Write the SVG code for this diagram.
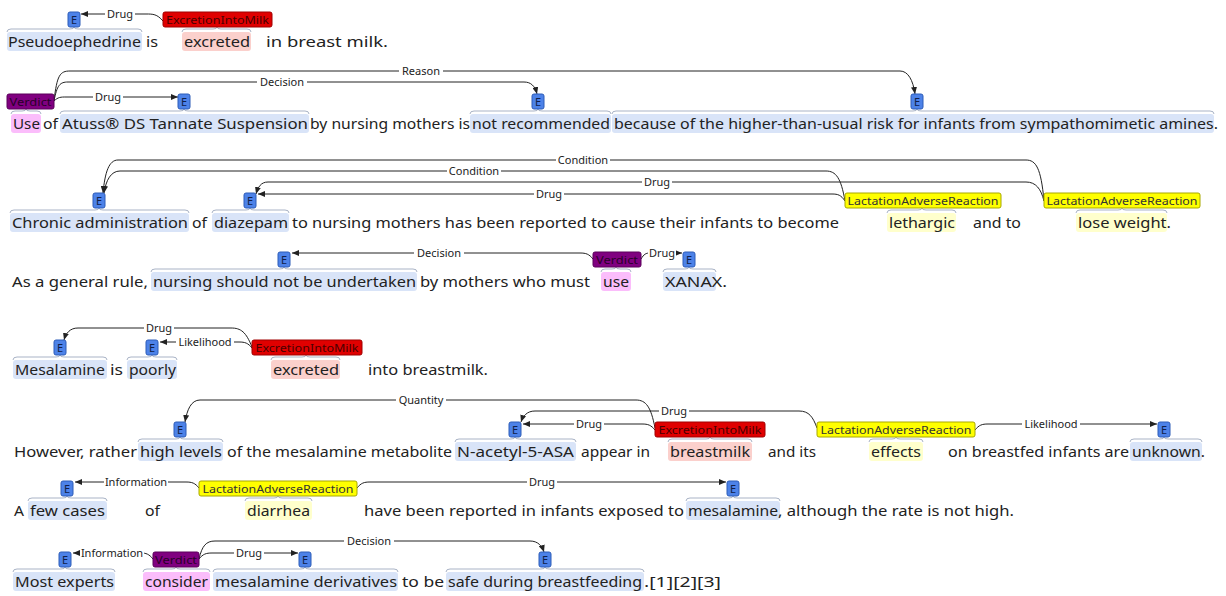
<svg xmlns="http://www.w3.org/2000/svg" width="1226" height="596" viewBox="0 0 1226 596">
<defs>
<style>
.t{font-family:"Noto Sans","DejaVu Sans",sans-serif;font-size:15px;fill:#222}
.lb{font-family:"Noto Sans","DejaVu Sans",sans-serif;font-size:11px;fill:#222;text-anchor:middle}
.bt{font-family:"Noto Sans","DejaVu Sans",sans-serif;font-size:11px;text-anchor:middle}
.arc{fill:none;stroke:#222;stroke-width:1}
.br{fill:none;stroke:#a9b3c6;stroke-width:1}
.lbg{fill:#fff}
.he{fill:#d9e4f8}
.hv{fill:#fbbdfb}
.hx{fill:#fbd0cc}
.hl{fill:#ffffcc}
.be{fill:#4d82e8;stroke:#2d5cb8}
.bv{fill:#800080;stroke:#5a005a}
.bx{fill:#e00000;stroke:#a00000}
.bl{fill:#ffff00;stroke:#a8a800}
.te{fill:#10204a}
.tv{fill:#2a002a}
.tx{fill:#4a0000}
.tl{fill:#333}
</style>
<marker id="ah" markerWidth="7" markerHeight="6" refX="7" refY="3" orient="auto" markerUnits="userSpaceOnUse"><path d="M0,0 L7,3 L0,6 z" fill="#222"/></marker>
</defs>
<rect width="1226" height="596" fill="#fff"/>

<g id="highlights">
<rect class="he" x="7" y="32" width="135" height="19" rx="3"/>
<rect class="hx" x="182" y="32" width="69" height="19" rx="3"/>

<rect class="hv" x="11" y="114" width="30" height="19" rx="3"/>
<rect class="he" x="60" y="114" width="249" height="19" rx="3"/>
<rect class="he" x="470" y="114" width="141" height="19" rx="3"/>
<rect class="he" x="612" y="114" width="602" height="19" rx="3"/>

<rect class="he" x="10" y="213" width="179" height="19" rx="3"/>
<rect class="he" x="212" y="213" width="77" height="19" rx="3"/>
<rect class="hl" x="887" y="213" width="69" height="19" rx="3"/>
<rect class="hl" x="1076" y="213" width="91" height="19" rx="3"/>

<rect class="he" x="151" y="272" width="266" height="19" rx="3"/>
<rect class="hv" x="601" y="272" width="30" height="19" rx="3"/>
<rect class="he" x="663" y="272" width="53" height="19" rx="3"/>

<rect class="he" x="13" y="360" width="94" height="19" rx="3"/>
<rect class="he" x="127" y="360" width="50" height="19" rx="3"/>
<rect class="hx" x="271" y="360" width="69" height="19" rx="3"/>

<rect class="he" x="138" y="442" width="85" height="19" rx="3"/>
<rect class="he" x="455" y="442" width="121" height="19" rx="3"/>
<rect class="hx" x="668" y="442" width="84" height="19" rx="3"/>
<rect class="hl" x="869" y="442" width="54" height="19" rx="3"/>
<rect class="he" x="1130" y="442" width="72" height="19" rx="3"/>

<rect class="he" x="28" y="501" width="79" height="19" rx="3"/>
<rect class="hl" x="245" y="501" width="67" height="19" rx="3"/>
<rect class="he" x="686" y="501" width="94" height="19" rx="3"/>

<rect class="he" x="13" y="572" width="102" height="19" rx="3"/>
<rect class="hv" x="143" y="572" width="67" height="19" rx="3"/>
<rect class="he" x="213" y="572" width="185" height="19" rx="3"/>
<rect class="he" x="446" y="572" width="198" height="19" rx="3"/>
</g>

<g id="text">
<text class="t" x="8" y="47" textLength="133" lengthAdjust="spacingAndGlyphs">Pseudoephedrine</text>
<text class="t" x="146" y="47" textLength="12" lengthAdjust="spacingAndGlyphs">is</text>
<text class="t" x="184" y="47" textLength="66" lengthAdjust="spacingAndGlyphs">excreted</text>
<text class="t" x="266" y="47" textLength="122" lengthAdjust="spacingAndGlyphs">in breast milk.</text>

<text class="t" x="13" y="129" textLength="27" lengthAdjust="spacingAndGlyphs">Use</text>
<text class="t" x="43" y="129" textLength="15" lengthAdjust="spacingAndGlyphs">of</text>
<text class="t" x="62" y="129" textLength="246" lengthAdjust="spacingAndGlyphs">Atuss® DS Tannate Suspension</text>
<text class="t" x="310" y="129" textLength="160" lengthAdjust="spacingAndGlyphs">by nursing mothers is</text>
<text class="t" x="472" y="129" textLength="138" lengthAdjust="spacingAndGlyphs">not recommended</text>
<text class="t" x="614" y="129" textLength="604" lengthAdjust="spacingAndGlyphs">because of the higher-than-usual risk for infants from sympathomimetic amines.</text>

<text class="t" x="12" y="228" textLength="176" lengthAdjust="spacingAndGlyphs">Chronic administration</text>
<text class="t" x="192" y="228" textLength="15" lengthAdjust="spacingAndGlyphs">of</text>
<text class="t" x="214" y="228" textLength="74" lengthAdjust="spacingAndGlyphs">diazepam</text>
<text class="t" x="292" y="228" textLength="547" lengthAdjust="spacingAndGlyphs">to nursing mothers has been reported to cause their infants to become</text>
<text class="t" x="889" y="228" textLength="66" lengthAdjust="spacingAndGlyphs">lethargic</text>
<text class="t" x="973" y="228" textLength="48" lengthAdjust="spacingAndGlyphs">and to</text>
<text class="t" x="1078" y="228" textLength="93" lengthAdjust="spacingAndGlyphs">lose weight.</text>

<text class="t" x="12" y="287" textLength="136" lengthAdjust="spacingAndGlyphs">As a general rule,</text>
<text class="t" x="153" y="287" textLength="263" lengthAdjust="spacingAndGlyphs">nursing should not be undertaken</text>
<text class="t" x="420" y="287" textLength="170" lengthAdjust="spacingAndGlyphs">by mothers who must</text>
<text class="t" x="603" y="287" textLength="26" lengthAdjust="spacingAndGlyphs">use</text>
<text class="t" x="665" y="287" textLength="62" lengthAdjust="spacingAndGlyphs">XANAX.</text>

<text class="t" x="15" y="375" textLength="90" lengthAdjust="spacingAndGlyphs">Mesalamine</text>
<text class="t" x="110" y="375" textLength="13" lengthAdjust="spacingAndGlyphs">is</text>
<text class="t" x="129" y="375" textLength="47" lengthAdjust="spacingAndGlyphs">poorly</text>
<text class="t" x="273" y="375" textLength="66" lengthAdjust="spacingAndGlyphs">excreted</text>
<text class="t" x="368" y="375" textLength="120" lengthAdjust="spacingAndGlyphs">into breastmilk.</text>

<text class="t" x="14" y="457" textLength="123" lengthAdjust="spacingAndGlyphs">However, rather</text>
<text class="t" x="140" y="457" textLength="82" lengthAdjust="spacingAndGlyphs">high levels</text>
<text class="t" x="227" y="457" textLength="225" lengthAdjust="spacingAndGlyphs">of the mesalamine metabolite</text>
<text class="t" x="457" y="457" textLength="117" lengthAdjust="spacingAndGlyphs">N-acetyl-5-ASA</text>
<text class="t" x="581" y="457" textLength="69" lengthAdjust="spacingAndGlyphs">appear in</text>
<text class="t" x="670" y="457" textLength="80" lengthAdjust="spacingAndGlyphs">breastmilk</text>
<text class="t" x="768" y="457" textLength="48" lengthAdjust="spacingAndGlyphs">and its</text>
<text class="t" x="871" y="457" textLength="50" lengthAdjust="spacingAndGlyphs">effects</text>
<text class="t" x="948" y="457" textLength="181" lengthAdjust="spacingAndGlyphs">on breastfed infants are</text>
<text class="t" x="1132" y="457" textLength="73" lengthAdjust="spacingAndGlyphs">unknown.</text>

<text class="t" x="14" y="516" textLength="10" lengthAdjust="spacingAndGlyphs">A</text>
<text class="t" x="30" y="516" textLength="75" lengthAdjust="spacingAndGlyphs">few cases</text>
<text class="t" x="145" y="516" textLength="15" lengthAdjust="spacingAndGlyphs">of</text>
<text class="t" x="247" y="516" textLength="63" lengthAdjust="spacingAndGlyphs">diarrhea</text>
<text class="t" x="364" y="516" textLength="320" lengthAdjust="spacingAndGlyphs">have been reported in infants exposed to</text>
<text class="t" x="688" y="516" textLength="90" lengthAdjust="spacingAndGlyphs">mesalamine</text>
<text class="t" x="778" y="516" textLength="236" lengthAdjust="spacingAndGlyphs">, although the rate is not high.</text>

<text class="t" x="15" y="587" textLength="99" lengthAdjust="spacingAndGlyphs">Most experts</text>
<text class="t" x="145" y="587" textLength="63" lengthAdjust="spacingAndGlyphs">consider</text>
<text class="t" x="215" y="587" textLength="182" lengthAdjust="spacingAndGlyphs">mesalamine derivatives</text>
<text class="t" x="402" y="587" textLength="42" lengthAdjust="spacingAndGlyphs">to be</text>
<text class="t" x="448" y="587" textLength="194" lengthAdjust="spacingAndGlyphs">safe during breastfeeding</text>
<text class="t" x="644" y="587" textLength="77" lengthAdjust="spacingAndGlyphs">.[1][2][3]</text>
</g>

<g id="connectors">
<path class="arc" d="M163,21 C157,14 153,14 146,14 L81,14" marker-end="url(#ah)"/>
<rect class="lbg" x="105" y="8" width="30" height="12"/><text class="lb" x="120" y="18">Drug</text>

<path class="arc" d="M54,101 C58,97 61,97 66,97 L178,97" marker-end="url(#ah)"/>
<path class="arc" d="M54,101 C57,85 60,82 68,82 L524,82 C531,82 535,86 537,94" marker-end="url(#ah)"/>
<path class="arc" d="M54,101 C57,75 60,71 70,71 L900,71 C908,71 913,80 915,94" marker-end="url(#ah)"/>
<rect class="lbg" x="93" y="91" width="30" height="12"/><text class="lb" x="108" y="101">Drug</text>
<rect class="lbg" x="257" y="76" width="50" height="12"/><text class="lb" x="282" y="86">Decision</text>
<rect class="lbg" x="399" y="65" width="44" height="12"/><text class="lb" x="421" y="75">Reason</text>

<path class="arc" d="M1044,201 C1041,168 1036,160 1026,160 L118,160 C109,160 105,172 103,193" marker-end="url(#ah)"/>
<path class="arc" d="M845,201 C841,178 836,171 826,171 L120,171 C111,171 106,180 104,193" marker-end="url(#ah)"/>
<path class="arc" d="M1044,201 C1041,189 1036,182 1026,182 L268,182 C261,182 258,187 256,194" marker-end="url(#ah)"/>
<path class="arc" d="M845,201 C841,195 838,194 832,194 L258,194" marker-end="url(#ah)"/>
<rect class="lbg" x="556" y="154" width="54" height="12"/><text class="lb" x="583" y="164">Condition</text>
<rect class="lbg" x="447" y="165" width="54" height="12"/><text class="lb" x="474" y="175">Condition</text>
<rect class="lbg" x="642" y="176" width="30" height="12"/><text class="lb" x="657" y="186">Drug</text>
<rect class="lbg" x="534" y="188" width="30" height="12"/><text class="lb" x="549" y="198">Drug</text>

<path class="arc" d="M593,259 C589,254 586,253 580,253 L292,253" marker-end="url(#ah)"/>
<path class="arc" d="M641,259 C644,254 646,253 650,253 L682,253" marker-end="url(#ah)"/>
<rect class="lbg" x="414" y="247" width="50" height="12"/><text class="lb" x="439" y="257">Decision</text>
<rect class="lbg" x="648" y="247" width="28" height="12"/><text class="lb" x="662" y="257">Drug</text>

<path class="arc" d="M252,347 C246,332 241,328 231,328 L78,328 C70,328 66,333 64,340" marker-end="url(#ah)"/>
<path class="arc" d="M252,348 C248,343 245,342 239,342 L160,342" marker-end="url(#ah)"/>
<rect class="lbg" x="144" y="322" width="30" height="12"/><text class="lb" x="159" y="332">Drug</text>
<rect class="lbg" x="176" y="336" width="58" height="12"/><text class="lb" x="205" y="346">Likelihood</text>

<path class="arc" d="M655,428 C651,407 646,400 636,400 L200,400 C191,400 187,410 185,422" marker-end="url(#ah)"/>
<path class="arc" d="M817,428 C813,417 809,411 799,411 L535,411 C527,411 523,416 521,422" marker-end="url(#ah)"/>
<path class="arc" d="M655,430 C651,425 648,424 642,424 L523,424" marker-end="url(#ah)"/>
<path class="arc" d="M975,430 C979,425 982,424 988,424 L1157,424" marker-end="url(#ah)"/>
<rect class="lbg" x="396" y="394" width="50" height="12"/><text class="lb" x="421" y="404">Quantity</text>
<rect class="lbg" x="659" y="405" width="30" height="12"/><text class="lb" x="674" y="415">Drug</text>
<rect class="lbg" x="574" y="418" width="30" height="12"/><text class="lb" x="589" y="428">Drug</text>
<rect class="lbg" x="1022" y="418" width="58" height="12"/><text class="lb" x="1051" y="428">Likelihood</text>

<path class="arc" d="M199,488 C195,483 192,482 186,482 L75,482" marker-end="url(#ah)"/>
<path class="arc" d="M357,488 C361,483 364,482 370,482 L726,482" marker-end="url(#ah)"/>
<rect class="lbg" x="104" y="476" width="64" height="12"/><text class="lb" x="136" y="486">Information</text>
<rect class="lbg" x="527" y="476" width="30" height="12"/><text class="lb" x="542" y="486">Drug</text>

<path class="arc" d="M153,559 C149,554 146,553 141,553 L73,553" marker-end="url(#ah)"/>
<path class="arc" d="M199,559 C203,554 206,553 212,553 L298,553" marker-end="url(#ah)"/>
<path class="arc" d="M199,559 C202,546 206,541 215,541 L530,541 C538,541 542,546 544,552" marker-end="url(#ah)"/>
<rect class="lbg" x="80" y="547" width="64" height="12"/><text class="lb" x="112" y="557">Information</text>
<rect class="lbg" x="234" y="547" width="30" height="12"/><text class="lb" x="249" y="557">Drug</text>
<rect class="lbg" x="344" y="535" width="50" height="12"/><text class="lb" x="369" y="545">Decision</text>
</g>

<g id="n1"><path class="br" d="M7,32 Q7,29 11,29 L70,29 Q74,29 74,27 Q74,29 78,29 L138,29 Q142,29 142,32"/><rect class="be" x="68" y="12" width="12" height="15" rx="2"/><text class="bt te" x="74" y="24">E</text></g>
<g id="n2"><path class="br" d="M182,32 Q182,29 186,29 L213,29 Q217,29 217,27 Q217,29 221,29 L247,29 Q251,29 251,32"/><rect class="bx" x="163" y="12" width="109" height="15" rx="2"/><text class="bt tx" x="217.5" y="24" textLength="103" lengthAdjust="spacingAndGlyphs">ExcretionIntoMilk</text></g>

<g id="n3"><path class="br" d="M11,114 Q11,111 15,111 L22,111 Q26,111 26,109 Q26,111 30,111 L37,111 Q41,111 41,114"/><rect class="bv" x="7" y="94" width="47" height="15" rx="2"/><text class="bt tv" x="30.5" y="106" textLength="42" lengthAdjust="spacingAndGlyphs">Verdict</text></g>
<g id="n4"><path class="br" d="M60,114 Q60,111 64,111 L180,111 Q184,111 184,109 Q184,111 188,111 L305,111 Q309,111 309,114"/><rect class="be" x="178" y="94" width="12" height="15" rx="2"/><text class="bt te" x="184" y="106">E</text></g>
<g id="n5"><path class="br" d="M470,114 Q470,111 474,111 L534,111 Q538,111 538,109 Q538,111 542,111 L607,111 Q611,111 611,114"/><rect class="be" x="532" y="94" width="12" height="15" rx="2"/><text class="bt te" x="538" y="106">E</text></g>
<g id="n6"><path class="br" d="M612,114 Q612,111 616,111 L913,111 Q917,111 917,109 Q917,111 921,111 L1210,111 Q1214,111 1214,114"/><rect class="be" x="911" y="94" width="12" height="15" rx="2"/><text class="bt te" x="917" y="106">E</text></g>

<g id="n7"><path class="br" d="M10,213 Q10,210 14,210 L95,210 Q99,210 99,208 Q99,210 103,210 L185,210 Q189,210 189,213"/><rect class="be" x="93" y="193" width="12" height="15" rx="2"/><text class="bt te" x="99" y="205">E</text></g>
<g id="n8"><path class="br" d="M212,213 Q212,210 216,210 L246,210 Q250,210 250,208 Q250,210 254,210 L285,210 Q289,210 289,213"/><rect class="be" x="244" y="193" width="12" height="15" rx="2"/><text class="bt te" x="250" y="205">E</text></g>
<g id="n9"><path class="br" d="M887,213 Q887,210 891,210 L918,210 Q922,210 922,208 Q922,210 926,210 L952,210 Q956,210 956,213"/><rect class="bl" x="845" y="193" width="156" height="15" rx="2"/><text class="bt tl" x="923" y="205" textLength="151" lengthAdjust="spacingAndGlyphs">LactationAdverseReaction</text></g>
<g id="n10"><path class="br" d="M1076,213 Q1076,210 1080,210 L1118,210 Q1122,210 1122,208 Q1122,210 1126,210 L1163,210 Q1167,210 1167,213"/><rect class="bl" x="1044" y="193" width="156" height="15" rx="2"/><text class="bt tl" x="1122" y="205" textLength="151" lengthAdjust="spacingAndGlyphs">LactationAdverseReaction</text></g>

<g id="n11"><path class="br" d="M151,272 Q151,269 155,269 L280,269 Q284,269 284,267 Q284,269 288,269 L413,269 Q417,269 417,272"/><rect class="be" x="278" y="252" width="12" height="15" rx="2"/><text class="bt te" x="284" y="264">E</text></g>
<g id="n12"><path class="br" d="M601,272 Q601,269 605,269 L612,269 Q616,269 616,267 Q616,269 620,269 L627,269 Q631,269 631,272"/><rect class="bv" x="593" y="252" width="48" height="15" rx="2"/><text class="bt tv" x="617" y="264" textLength="42" lengthAdjust="spacingAndGlyphs">Verdict</text></g>
<g id="n13"><path class="br" d="M663,272 Q663,269 667,269 L685,269 Q689,269 689,267 Q689,269 693,269 L712,269 Q716,269 716,272"/><rect class="be" x="683" y="252" width="12" height="15" rx="2"/><text class="bt te" x="689" y="264">E</text></g>

<g id="n14"><path class="br" d="M13,360 Q13,357 17,357 L56,357 Q60,357 60,355 Q60,357 64,357 L103,357 Q107,357 107,360"/><rect class="be" x="54" y="340" width="12" height="15" rx="2"/><text class="bt te" x="60" y="352">E</text></g>
<g id="n15"><path class="br" d="M127,360 Q127,357 131,357 L148,357 Q152,357 152,355 Q152,357 156,357 L173,357 Q177,357 177,360"/><rect class="be" x="146" y="340" width="12" height="15" rx="2"/><text class="bt te" x="152" y="352">E</text></g>
<g id="n16"><path class="br" d="M271,360 Q271,357 275,357 L302,357 Q306,357 306,355 Q306,357 310,357 L336,357 Q340,357 340,360"/><rect class="bx" x="252" y="340" width="110" height="15" rx="2"/><text class="bt tx" x="307" y="352" textLength="103" lengthAdjust="spacingAndGlyphs">ExcretionIntoMilk</text></g>

<g id="n17"><path class="br" d="M138,442 Q138,439 142,439 L176,439 Q180,439 180,437 Q180,439 184,439 L219,439 Q223,439 223,442"/><rect class="be" x="174" y="422" width="12" height="15" rx="2"/><text class="bt te" x="180" y="434">E</text></g>
<g id="n18"><path class="br" d="M455,442 Q455,439 459,439 L511,439 Q515,439 515,437 Q515,439 519,439 L572,439 Q576,439 576,442"/><rect class="be" x="509" y="422" width="12" height="15" rx="2"/><text class="bt te" x="515" y="434">E</text></g>
<g id="n19"><path class="br" d="M668,442 Q668,439 672,439 L706,439 Q710,439 710,437 Q710,439 714,439 L748,439 Q752,439 752,442"/><rect class="bx" x="655" y="422" width="110" height="15" rx="2"/><text class="bt tx" x="710" y="434" textLength="103" lengthAdjust="spacingAndGlyphs">ExcretionIntoMilk</text></g>
<g id="n20"><path class="br" d="M869,442 Q869,439 873,439 L892,439 Q896,439 896,437 Q896,439 900,439 L919,439 Q923,439 923,442"/><rect class="bl" x="817" y="422" width="158" height="15" rx="2"/><text class="bt tl" x="896" y="434" textLength="151" lengthAdjust="spacingAndGlyphs">LactationAdverseReaction</text></g>
<g id="n21"><path class="br" d="M1130,442 Q1130,439 1134,439 L1160,439 Q1164,439 1164,437 Q1164,439 1168,439 L1198,439 Q1202,439 1202,442"/><rect class="be" x="1158" y="422" width="12" height="15" rx="2"/><text class="bt te" x="1164" y="434">E</text></g>

<g id="n22"><path class="br" d="M28,501 Q28,498 32,498 L63,498 Q67,498 67,496 Q67,498 71,498 L103,498 Q107,498 107,501"/><rect class="be" x="61" y="481" width="12" height="15" rx="2"/><text class="bt te" x="67" y="493">E</text></g>
<g id="n23"><path class="br" d="M245,501 Q245,498 249,498 L274,498 Q278,498 278,496 Q278,498 282,498 L308,498 Q312,498 312,501"/><rect class="bl" x="199" y="481" width="158" height="15" rx="2"/><text class="bt tl" x="278" y="493" textLength="151" lengthAdjust="spacingAndGlyphs">LactationAdverseReaction</text></g>
<g id="n24"><path class="br" d="M686,501 Q686,498 690,498 L729,498 Q733,498 733,496 Q733,498 737,498 L776,498 Q780,498 780,501"/><rect class="be" x="727" y="481" width="12" height="15" rx="2"/><text class="bt te" x="733" y="493">E</text></g>

<g id="n25"><path class="br" d="M13,572 Q13,569 17,569 L61,569 Q65,569 65,567 Q65,569 69,569 L111,569 Q115,569 115,572"/><rect class="be" x="59" y="552" width="12" height="15" rx="2"/><text class="bt te" x="65" y="564">E</text></g>
<g id="n26"><path class="br" d="M143,572 Q143,569 147,569 L172,569 Q176,569 176,567 Q176,569 180,569 L206,569 Q210,569 210,572"/><rect class="bv" x="153" y="552" width="46" height="15" rx="2"/><text class="bt tv" x="176" y="564" textLength="42" lengthAdjust="spacingAndGlyphs">Verdict</text></g>
<g id="n27"><path class="br" d="M213,572 Q213,569 217,569 L301,569 Q305,569 305,567 Q305,569 309,569 L394,569 Q398,569 398,572"/><rect class="be" x="299" y="552" width="12" height="15" rx="2"/><text class="bt te" x="305" y="564">E</text></g>
<g id="n28"><path class="br" d="M446,572 Q446,569 450,569 L541,569 Q545,569 545,567 Q545,569 549,569 L640,569 Q644,569 644,572"/><rect class="be" x="539" y="552" width="12" height="15" rx="2"/><text class="bt te" x="545" y="564">E</text></g>
</svg>
